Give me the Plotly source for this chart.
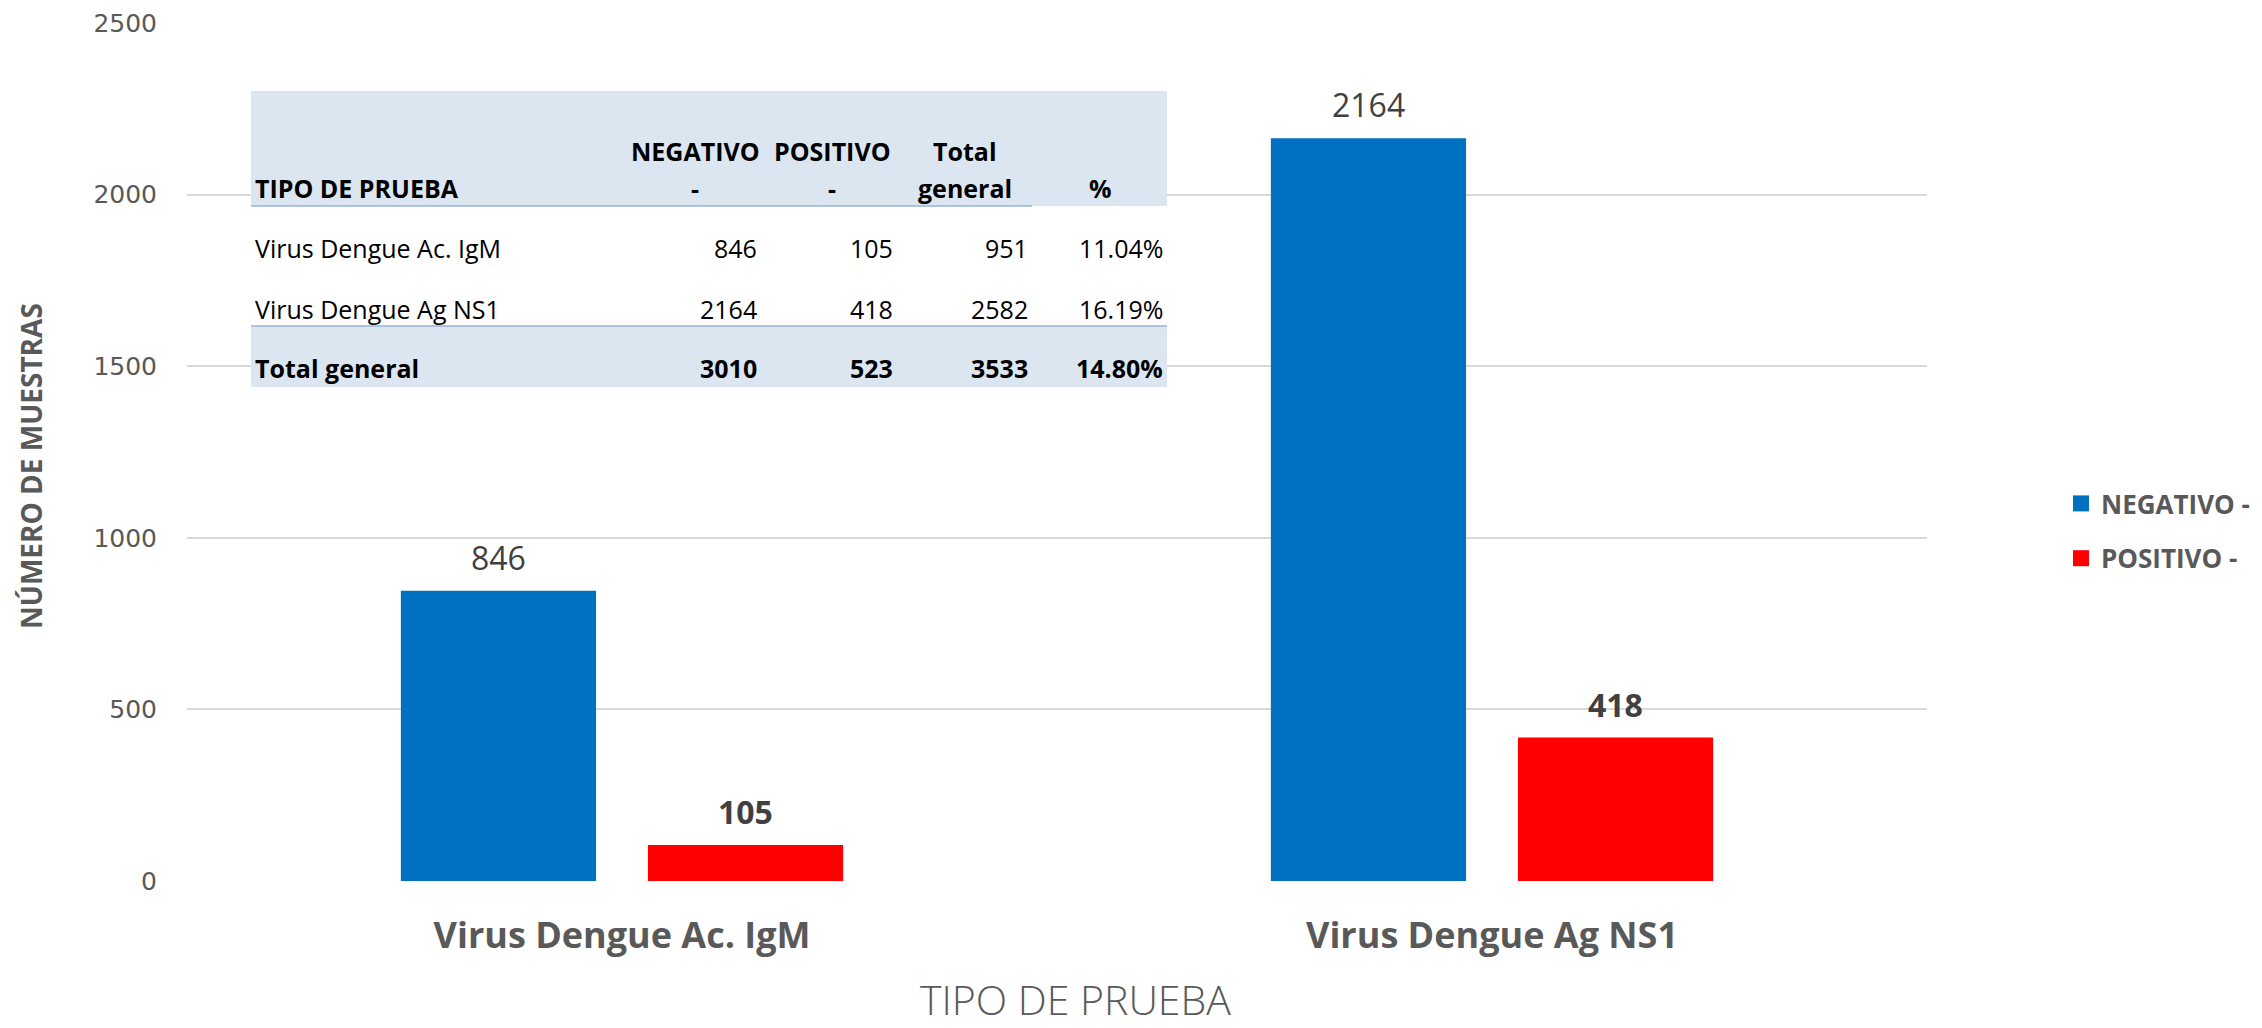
import plotly.graph_objects as go

# ---------------- data ----------------
categories = ["Virus Dengue Ac. IgM", "Virus Dengue Ag NS1"]
series_names = ["NEGATIVO -", "POSITIVO -"]
negativo = [846, 2164]
positivo = [105, 418]
y_ticks = [0, 500, 1000, 1500, 2000, 2500]

table_header_1 = ["", "NEGATIVO", "POSITIVO", "Total", ""]
table_header_2 = ["TIPO DE PRUEBA", "-", "-", "general", "%"]
table_total_label = "Total general"

colors = ["#0070C0", "#FF0000"]
GRAY = "#595959"
LABEL = "#404040"

# ---------------- layout geometry (page pixels) ----------------
BODY = 8                      # default browser body margin
W, H = 2262, 1028 - BODY
PL, PR, PT, PB = 187, 1927, 23, 881   # plot area in page pixels
BARGAP, GROUPGAP = 0.432, 0.21


def px(x):
    return (x - PL) / (PR - PL)


def py(y):
    return (PB - y) / (PB - PT)


fig = go.Figure()
series = [negativo, positivo]
for name, vals, col in zip(series_names, series, colors):
    fig.add_trace(go.Bar(x=categories, y=vals, name=name, marker_color=col,
                         marker_line_width=0, showlegend=False))
# legend entries (square markers)
for name, col in zip(series_names, colors):
    fig.add_trace(go.Scatter(x=[None], y=[None], mode="markers", name=name,
                             legendgroup=name,
                             marker=dict(symbol="square", size=18, color=col)))

annotations = []
# data labels
slot = (1 - BARGAP) / 2
for s, vals in enumerate(series):
    for i, v in enumerate(vals):
        annotations.append(dict(
            x=i + (s - 0.5) * slot, y=v, xref="x", yref="y",
            text=f"<b>{v}</b>" if s == 1 else str(v),
            showarrow=False, yanchor="bottom", yshift=10,
            font=dict(family="Open Sans", size=32, color=LABEL)))

# y-axis title
annotations.append(dict(
    x=px(31), y=py(466), xref="paper", yref="paper", text="<b>NÚMERO DE MUESTRAS</b>",
    textangle=-90, showarrow=False, xanchor="center", yanchor="middle",
    font=dict(family="Open Sans", size=28, color=GRAY)))

# x-axis title
annotations.append(dict(
    x=px(1075), y=py(999), xref="paper", yref="paper", text="TIPO DE PRUEBA",
    showarrow=False, xanchor="center", yanchor="middle",
    font=dict(family="Open Sans", size=41, color=GRAY, weight=300)))

# ---------------- table ----------------
shapes = []
T_L, T_R = 251, 1167
HEAD_BG = "#DCE6F1"
LINE = "#95B3D7"
shapes.append(dict(type="rect", xref="paper", yref="paper", x0=px(T_L), x1=px(T_R),
                   y0=py(91), y1=py(387), fillcolor="white", line_width=0, layer="above"))
shapes.append(dict(type="rect", xref="paper", yref="paper", x0=px(T_L), x1=px(T_R),
                   y0=py(91), y1=py(206), fillcolor=HEAD_BG, line_width=0, layer="above"))
shapes.append(dict(type="rect", xref="paper", yref="paper", x0=px(T_L), x1=px(T_R),
                   y0=py(326), y1=py(387), fillcolor=HEAD_BG, line_width=0, layer="above"))
shapes.append(dict(type="line", xref="paper", yref="paper", x0=px(T_L), x1=px(1032),
                   y0=py(206), y1=py(206), line=dict(color=LINE, width=1.5), layer="above"))
shapes.append(dict(type="line", xref="paper", yref="paper", x0=px(T_L), x1=px(T_R),
                   y0=py(326), y1=py(326), line=dict(color=LINE, width=1.5), layer="above"))

TFONT = "Open Sans"
TSIZE = 25
col_right = [759, 895, 1030, 1165]
col_center = [695, 832, 965, 1100]


def cell(x, y, text, anchor, bold=False):
    annotations.append(dict(
        x=px(x), y=py(y), xref="paper", yref="paper",
        text=f"<b>{text}</b>" if bold else text, showarrow=False,
        xanchor=anchor, yanchor="middle",
        font=dict(family=TFONT, size=TSIZE, color="black")))


# header
cell(253, 188, table_header_2[0], "left", True)
for j in range(4):
    if table_header_1[j + 1]:
        cell(col_center[j], 151, table_header_1[j + 1], "center", True)
    cell(col_center[j], 188, table_header_2[j + 1], "center", True)

row_y = [248, 309]
for r, cat in enumerate(categories):
    tot = negativo[r] + positivo[r]
    vals = [str(negativo[r]), str(positivo[r]), str(tot), f"{positivo[r] / tot * 100:.2f}%"]
    cell(253, row_y[r], cat, "left")
    for j, v in enumerate(vals):
        cell(col_right[j], row_y[r], v, "right")

tn, tp = sum(negativo), sum(positivo)
tvals = [str(tn), str(tp), str(tn + tp), f"{tp / (tn + tp) * 100:.2f}%"]
cell(253, 368, table_total_label, "left", True)
for j, v in enumerate(tvals):
    cell(col_right[j], 368, v, "right", True)

fig.update_layout(
    width=W, height=H,
    margin=dict(l=PL - BODY, r=W - (PR - BODY), t=PT - BODY, b=H - (PB - BODY),
                autoexpand=False),
    paper_bgcolor="white", plot_bgcolor="white",
    barmode="group", bargap=BARGAP, bargroupgap=GROUPGAP,
    font=dict(family="Open Sans", color=GRAY),
    xaxis=dict(
        tickfont=dict(family="Open Sans", size=36, color=GRAY, weight="bold"),
        showline=False, showgrid=False, zeroline=False, ticks="", ticklabelstandoff=30,
    ),
    yaxis=dict(
        range=[0, 2500], tickvals=y_ticks,
        tickfont=dict(family="DejaVu Sans", size=25, color=GRAY),
        showgrid=True, gridcolor="#D9D9D9", gridwidth=1.5,
        zeroline=False, showline=False, ticks="", ticklabelstandoff=29,
    ),
    legend=dict(x=px(2061), y=py(531), xanchor="left", yanchor="middle",
                xref="paper", yref="paper",
                font=dict(family="Open Sans", size=26, color=GRAY, weight="bold"),
                tracegroupgap=18, bgcolor="rgba(0,0,0,0)"),
    annotations=annotations,
    shapes=shapes,
)

fig.write_html("out.html")
